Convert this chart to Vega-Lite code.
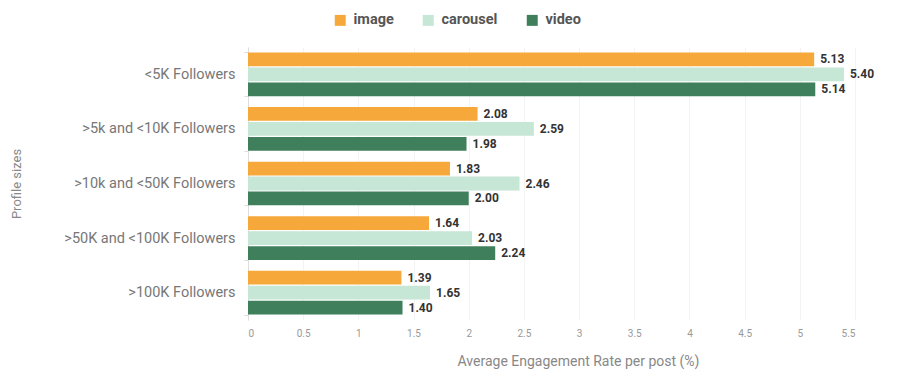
{
  "$schema": "https://vega.github.io/schema/vega-lite/v6.json",
  "autosize": {"type": "none"},
  "width": 607,
  "height": 273,
  "padding": {"left": 248, "top": 47, "right": 43, "bottom": 53},
  "background": "white",
  "config": {
    "font": "Roboto",
    "view": {"stroke": null}
  },
  "data": {
    "values": [
      {"profile": "<5K Followers", "type": "image", "rate": 5.13},
      {"profile": "<5K Followers", "type": "carousel", "rate": 5.40},
      {"profile": "<5K Followers", "type": "video", "rate": 5.14},
      {"profile": ">5k and <10K Followers", "type": "image", "rate": 2.08},
      {"profile": ">5k and <10K Followers", "type": "carousel", "rate": 2.59},
      {"profile": ">5k and <10K Followers", "type": "video", "rate": 1.98},
      {"profile": ">10k and <50K Followers", "type": "image", "rate": 1.83},
      {"profile": ">10k and <50K Followers", "type": "carousel", "rate": 2.46},
      {"profile": ">10k and <50K Followers", "type": "video", "rate": 2.00},
      {"profile": ">50K and <100K Followers", "type": "image", "rate": 1.64},
      {"profile": ">50K and <100K Followers", "type": "carousel", "rate": 2.03},
      {"profile": ">50K and <100K Followers", "type": "video", "rate": 2.24},
      {"profile": ">100K Followers", "type": "image", "rate": 1.39},
      {"profile": ">100K Followers", "type": "carousel", "rate": 1.65},
      {"profile": ">100K Followers", "type": "video", "rate": 1.40}
    ]
  },
  "encoding": {
    "y": {
      "field": "profile",
      "type": "nominal",
      "sort": null,
      "scale": {"paddingInner": 0.2, "paddingOuter": 0.1},
      "axis": {
        "title": "Profile sizes",
        "titleColor": "#888888",
        "titleFontSize": 13,
        "titleFontWeight": "normal",
        "titlePadding": 40,
        "labelColor": "#777777",
        "labelFontSize": 14.5,
        "labelPadding": 9,
        "domainColor": "#dddddd",
        "tickColor": "#dddddd",
        "tickBand": "extent",
        "tickSize": 4
      }
    },
    "yOffset": {
      "field": "type",
      "type": "nominal",
      "sort": ["image", "carousel", "video"],
      "scale": {"paddingInner": 0.08}
    },
    "x": {
      "field": "rate",
      "type": "quantitative",
      "scale": {"domain": [0, 5.5], "nice": false},
      "axis": {
        "title": "Average Engagement Rate per post (%)",
        "titleColor": "#888888",
        "titleFontSize": 14,
        "titleFontWeight": "normal",
        "titlePadding": 16,
        "titleX": 330,
        "values": [0, 0.5, 1, 1.5, 2, 2.5, 3, 3.5, 4, 4.5, 5, 5.5],
        "format": "~g",
        "labelColor": "#999999",
        "labelFontSize": 10,
        "labelPadding": 8,
        "domain": false,
        "ticks": false,
        "grid": true,
        "gridColor": "#f3f3f3"
      }
    }
  },
  "layer": [
    {
      "mark": {"type": "bar"},
      "encoding": {
        "color": {
          "field": "type",
          "type": "nominal",
          "sort": ["image", "carousel", "video"],
          "scale": {"domain": ["image", "carousel", "video"], "range": ["#f7a83b", "#c6e6d6", "#3f7f5c"]},
          "legend": {
            "title": null,
            "orient": "none",
            "direction": "horizontal",
            "legendX": 85,
            "legendY": -34,
            "symbolType": "square",
            "symbolSize": 120,
            "symbolStrokeWidth": 0,
            "labelFontSize": 14.5,
            "labelFontWeight": "bold",
            "labelColor": "#555555",
            "columnPadding": 27,
            "labelOffset": 6
          }
        }
      }
    },
    {
      "mark": {"type": "text", "align": "left", "dx": 6, "fontSize": 12, "fontWeight": "bold", "color": "#333333"},
      "encoding": {
        "text": {"field": "rate", "type": "quantitative", "format": ".2f"}
      }
    }
  ]
}
